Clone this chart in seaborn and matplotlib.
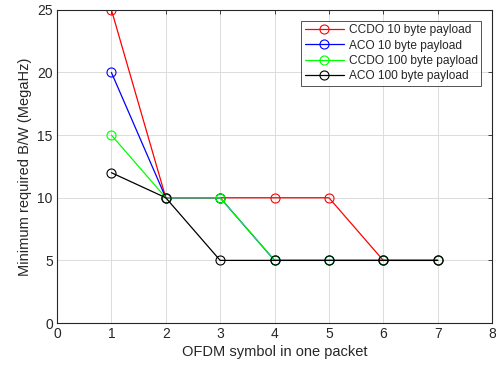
import pandas as pd
import matplotlib.pyplot as plt
import seaborn as sns

# Values
symbols = [1, 2, 3, 4, 5, 6, 7]
ccdo_10 = [25, 10, 10, 10, 10, 5, 5]
aco_10 = [20, 10, 10, 5, 5, 5, 5]
ccdo_100 = [15, 10, 10, 5, 5, 5, 5]
aco_100 = [12, 10, 5, 5, 5, 5, 5]
series_names = ['CCDO 10 byte payload', 'ACO 10 byte payload',
                'CCDO 100 byte payload', 'ACO 100 byte payload']
colors = ['#ff0000', '#0000ff', '#00ff00', '#000000']

frames = []
for name, vals in zip(series_names, [ccdo_10, aco_10, ccdo_100, aco_100]):
    frames.append(pd.DataFrame({'symbols': symbols, 'bw': vals, 'series': name}))
df = pd.concat(frames, ignore_index=True)

sns.set_style("whitegrid")
plt.rcParams['font.family'] = ['Liberation Sans', 'DejaVu Sans']

fig = plt.figure(figsize=(4.96, 3.65), dpi=100)
ax = fig.add_axes([0.115, 0.115, 0.877, 0.858])

for name, c in zip(series_names, colors):
    sns.lineplot(data=df[df['series'] == name], x='symbols', y='bw', ax=ax,
                 color=c, marker='o', markersize=6.5, fillstyle='none',
                 markeredgecolor=c, markeredgewidth=0.8, linewidth=0.9,
                 label=name)

ax.set_xlim(0, 8)
ax.set_ylim(0, 25)
ax.set_xticks(range(0, 9))
ax.set_yticks([0, 5, 10, 15, 20, 25])
ax.grid(True, color='#dcdcdc', linewidth=0.7)
for s in ax.spines.values():
    s.set_visible(True)
    s.set_color('#262626')
    s.set_linewidth(0.8)
ax.tick_params(direction='in', length=3, width=0.6, top=True, right=True,
               labelsize=10, colors='#262626', pad=3)
ax.set_xlabel('OFDM symbol in one packet', fontsize=10.5, color='#262626', labelpad=3)
ax.set_ylabel('Minimum required B/W (MegaHz)', fontsize=10.5, color='#262626', labelpad=4)

leg = ax.legend(loc='upper right', fontsize=8.6, frameon=True, fancybox=False,
                borderaxespad=0.9, handlelength=3.3, labelspacing=0.28,
                borderpad=0.3, handletextpad=0.4)
leg.get_frame().set_edgecolor('#262626')
leg.get_frame().set_linewidth(0.7)

plt.savefig('out.png', dpi=100)
plt.close()
